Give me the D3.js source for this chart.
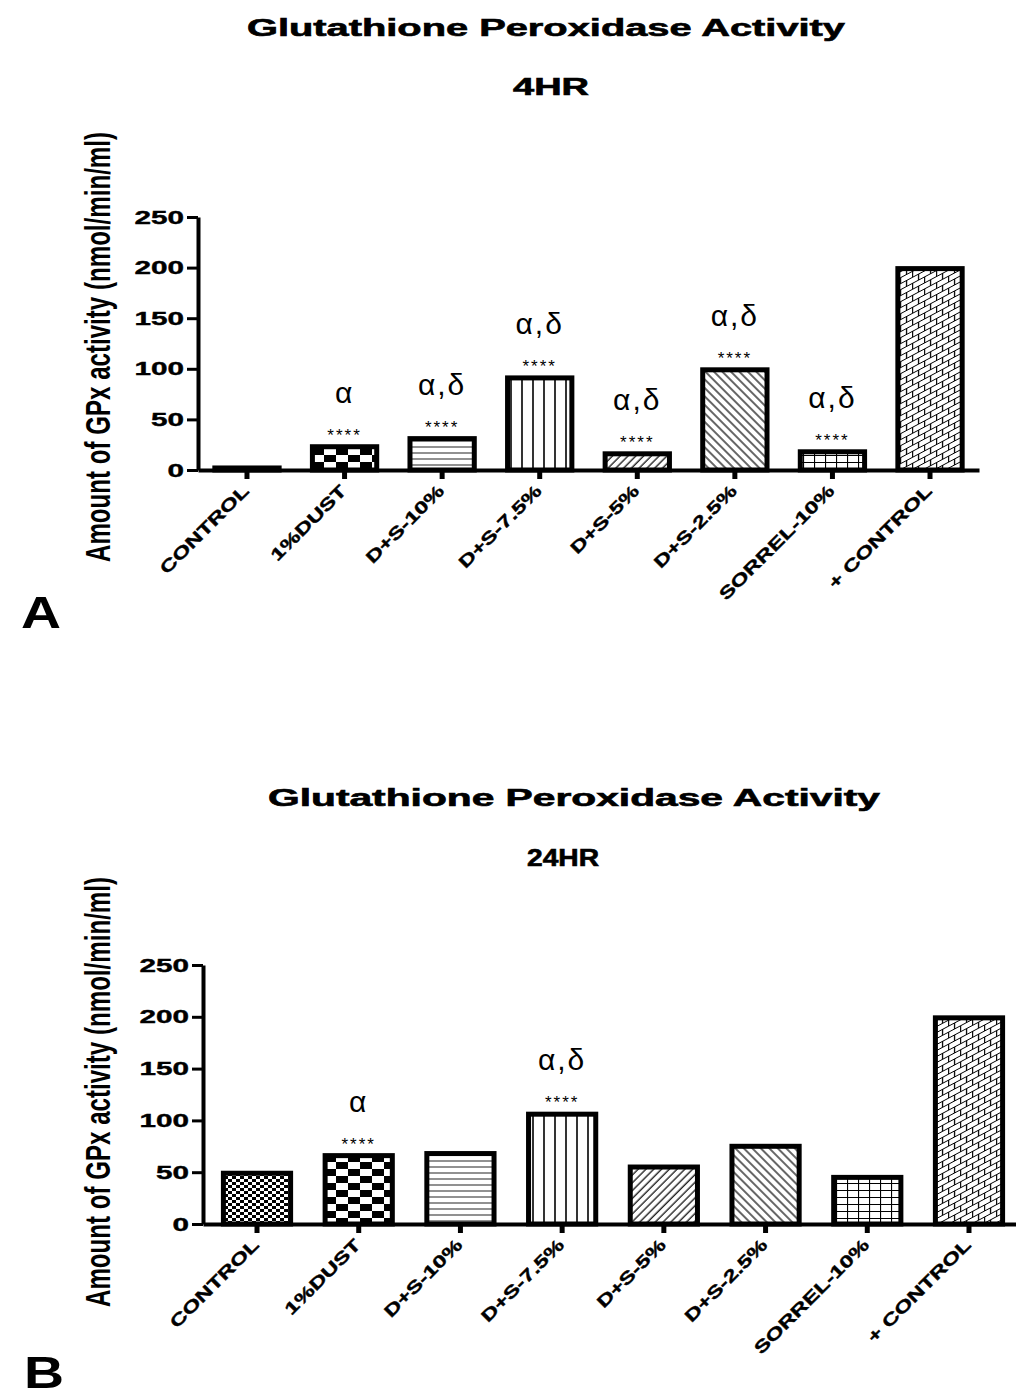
<!DOCTYPE html>
<html>
<head>
<meta charset="utf-8">
<script src="https://cdn.jsdelivr.net/npm/d3@7"></script>
<style>
  body { margin: 0; background: #fff; }
  svg { display: block; }
  text { font-family: "Liberation Sans", Arial, sans-serif; }
</style>
</head>
<body>
<script>
// data
var groups = ["CONTROL", "1%DUST", "D+S-10%", "D+S-7.5%", "D+S-5%", "D+S-2.5%", "SORREL-10%", "+ CONTROL"];
var gpx4hr = [2, 23, 31, 91, 16, 99, 18, 199];
var gpx24hr = [49, 66, 68, 106, 55, 75, 45, 199];
var sig4hr = ["", "α", "α,δ", "α,δ", "α,δ", "α,δ", "α,δ", ""];
var stars4hr = ["", "****", "****", "****", "****", "****", "****", ""];
var sig24hr = ["", "α", "", "α,δ", "", "", "", ""];
var stars24hr = ["", "****", "", "****", "", "", "", ""];
var yTicks = [0, 50, 100, 150, 200, 250];
var patterns = ["pFine", "pCheck", "pHoriz", "pVert", "pUp", "pDown", "pGrid", "pBrick"];

var width = 1016, height = 1399;

var svg = d3.select("body").append("svg")
    .attr("width", width)
    .attr("height", height);

// hatch patterns
var defs = svg.append("defs");

function pattern(id, w, h, tr) {
  var p = defs.append("pattern")
    .attr("id", id)
    .attr("patternUnits", "userSpaceOnUse")
    .attr("width", w)
    .attr("height", h);
  if (tr) p.attr("patternTransform", tr);
  p.append("rect").attr("width", w).attr("height", h).attr("fill", "#fff");
  return p;
}

var p = pattern("pFine", 8, 6);
p.append("rect").attr("width", 4).attr("height", 3).attr("fill", "#000");
p.append("rect").attr("x", 4).attr("y", 3).attr("width", 4).attr("height", 3).attr("fill", "#000");

p = pattern("pCheck", 24, 14);
p.append("rect").attr("width", 12).attr("height", 7).attr("fill", "#000");
p.append("rect").attr("x", 12).attr("y", 7).attr("width", 12).attr("height", 7).attr("fill", "#000");

p = pattern("pHoriz", 10, 6);
p.append("line").attr("x1", 0).attr("x2", 10).attr("y1", 3).attr("y2", 3)
  .attr("stroke", "#555").attr("stroke-width", 1.3);

p = pattern("pVert", 11, 10);
p.append("line").attr("x1", 5).attr("x2", 5).attr("y1", 0).attr("y2", 10)
  .attr("stroke", "#000").attr("stroke-width", 1.6);

p = pattern("pUp", 5.5, 10, "rotate(45)");
p.append("line").attr("x1", 2).attr("x2", 2).attr("y1", 0).attr("y2", 10)
  .attr("stroke", "#000").attr("stroke-width", 1.2);

p = pattern("pDown", 6, 10, "rotate(-45)");
p.append("line").attr("x1", 2).attr("x2", 2).attr("y1", 0).attr("y2", 10)
  .attr("stroke", "#000").attr("stroke-width", 1.2);

p = pattern("pGrid", 11, 7);
p.append("path").attr("d", "M0,0.5H11M0.5,0V7")
  .attr("stroke", "#000").attr("stroke-width", 1.2).attr("fill", "none");

p = pattern("pBrick", 12, 12, "skewY(-28)");
p.append("path").attr("d", "M0,0.5H12M0,6.5H12M0.5,0V6.5M6.5,6.5V12")
  .attr("stroke", "#000").attr("stroke-width", 1.2).attr("fill", "none");

function drawPanel(cfg, values, sig, stars) {
  var x = d3.scaleBand()
    .domain(groups)
    .range(cfg.xr)
    .paddingInner(0.3)
    .paddingOuter(cfg.po);

  var y = d3.scaleLinear()
    .domain([0, 250])
    .range(cfg.yr);

  var g = svg.append("g");

  // titles
  g.append("text")
    .attr("x", cfg.titleX).attr("y", cfg.titleY)
    .attr("text-anchor", "middle")
    .attr("font-size", 23).attr("font-weight", "bold")
    .attr("stroke", "#000").attr("stroke-width", 0.6)
    .attr("textLength", cfg.titleW).attr("lengthAdjust", "spacingAndGlyphs")
    .text("Glutathione Peroxidase Activity");

  g.append("text")
    .attr("x", cfg.subX).attr("y", cfg.subY)
    .attr("text-anchor", "middle")
    .attr("font-size", 23).attr("font-weight", "bold")
    .attr("stroke", "#000").attr("stroke-width", 0.6)
    .attr("textLength", cfg.subW).attr("lengthAdjust", "spacingAndGlyphs")
    .text(cfg.sub);

  // bars
  g.selectAll("rect.bar")
    .data(values)
    .enter()
    .append("rect")
    .attr("class", "bar")
    .attr("x", function(d, i) { return x(groups[i]) + 2; })
    .attr("width", x.bandwidth() - 4)
    .attr("y", function(d) { return y(d); })
    .attr("height", function(d) { return y(0) - y(d); })
    .attr("fill", function(d, i) { return "url(#" + patterns[i] + ")"; })
    .attr("stroke", "#000")
    .attr("stroke-width", 5);

  // significance marks
  g.selectAll("text.stars")
    .data(values)
    .enter()
    .append("text")
    .attr("class", "stars")
    .attr("x", function(d, i) { return x(groups[i]) + x.bandwidth() / 2; })
    .attr("y", function(d) { return y(d) - 6; })
    .attr("text-anchor", "middle")
    .attr("font-family", "'Liberation Serif', 'Times New Roman', serif")
    .attr("font-size", 17)
    .attr("letter-spacing", 2)
    .text(function(d, i) { return stars[i]; });

  g.selectAll("text.sig")
    .data(values)
    .enter()
    .append("text")
    .attr("class", "sig")
    .attr("x", function(d, i) { return x(groups[i]) + x.bandwidth() / 2; })
    .attr("y", function(d) { return y(d) - 44; })
    .attr("text-anchor", "middle")
    .attr("font-family", "'Liberation Serif', 'Times New Roman', serif")
    .attr("font-size", 30)
    .attr("letter-spacing", 2)
    .text(function(d, i) { return sig[i]; });

  // y axis
  var yAxis = g.append("g")
    .attr("transform", "translate(" + cfg.xr[0] + ",0)")
    .call(d3.axisLeft(y).tickValues(yTicks).tickSize(11).tickSizeOuter(0).tickPadding(3));
  yAxis.select(".domain").attr("stroke-width", 4);
  yAxis.selectAll(".tick line").attr("stroke-width", 3);
  yAxis.selectAll(".tick text")
    .attr("font-size", 19).attr("font-weight", "bold").attr("fill", "#000")
    .attr("stroke", "#000").attr("stroke-width", 0.4)
    .attr("font-family", "'Liberation Sans', Arial, sans-serif")
    .attr("textLength", function(d) { return String(d).length * 16.5; })
    .attr("lengthAdjust", "spacingAndGlyphs");

  // x axis
  var xAxis = g.append("g")
    .attr("transform", "translate(0," + y(0) + ")")
    .call(d3.axisBottom(x).tickSize(9).tickSizeOuter(0));
  xAxis.select(".domain").attr("stroke-width", 4);
  xAxis.selectAll(".tick line").attr("stroke-width", 5);
  xAxis.selectAll(".tick text").remove();

  g.selectAll("text.xlab")
    .data(groups)
    .enter()
    .append("text")
    .attr("class", "xlab")
    .attr("transform", function(d) {
      return "translate(" + (x(d) + x.bandwidth() / 2 + 3) + "," + (y(0) + 22) + ") rotate(-45) scale(1.4,1)";
    })
    .attr("text-anchor", "end")
    .attr("font-size", 17)
    .attr("font-weight", "bold")
    .attr("stroke", "#000").attr("stroke-width", 0.4)
    .text(function(d) { return d; });

  // y label (condensed: small font stretched across the baseline)
  g.append("text")
    .attr("transform", "translate(110," + cfg.labelY + ") rotate(-90) scale(1,1.6)")
    .attr("text-anchor", "middle")
    .attr("font-family", "'Liberation Sans Narrow', 'Liberation Sans', Arial, sans-serif")
    .attr("font-size", 22.5)
    .attr("font-weight", "bold")
    .attr("textLength", 430).attr("lengthAdjust", "spacingAndGlyphs")
    .text("Amount of GPx activity (nmol/min/ml)");

  // panel letter
  g.append("text")
    .attr("x", cfg.letterX).attr("y", cfg.letterY)
    .attr("font-size", 44).attr("font-weight", "bold")
    .attr("textLength", 40).attr("lengthAdjust", "spacingAndGlyphs")
    .text(cfg.letter);
}

drawPanel({
  xr: [198, 979], po: 0.152, yr: [470, 217],
  titleX: 546, titleY: 36, titleW: 598,
  sub: "4HR", subX: 551, subY: 95, subW: 76,
  labelY: 347, letter: "A", letterX: 21, letterY: 628
}, gpx4hr, sig4hr, stars4hr);

drawPanel({
  xr: [203, 1023], po: 0.181, yr: [1224, 965],
  titleX: 574, titleY: 806, titleW: 612,
  sub: "24HR", subX: 563, subY: 866, subW: 72,
  labelY: 1092, letter: "B", letterX: 24, letterY: 1388
}, gpx24hr, sig24hr, stars24hr);
</script>
</body>
</html>
